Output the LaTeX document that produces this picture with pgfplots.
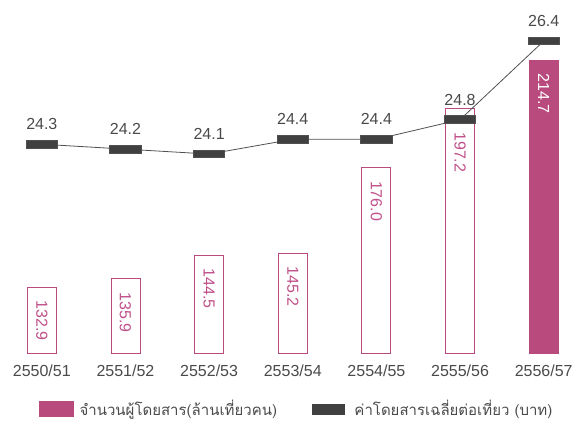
\documentclass[border=0pt]{standalone}
\usepackage{pgfplots}
\usepackage{pgfplotstable}
\pgfplotsset{compat=1.18}
\usepackage{fontspec}
\setmainfont{Liberation Sans}
\newfontfamily\thaifont[Script=Thai]{Loma}

\definecolor{barpink}{HTML}{B94A7E}
\definecolor{barlab}{HTML}{C0508A}
\definecolor{darkbar}{HTML}{404040}
\definecolor{labgray}{HTML}{4A4A4A}
\definecolor{linegray}{HTML}{505050}

% passengers (million trips), bars
\pgfplotstableread{
x v
0 132.9
1 135.9
2 144.5
3 145.2
4 176.0
}\passengers
\pgfplotstableread{
x v
5 197.2
}\passfive
\pgfplotstableread{
x v
6 214.7
}\passlast
% average fare (baht), line
\pgfplotstableread{
x v
0 24.3
1 24.2
2 24.1
3 24.4
4 24.4
5 24.8
6 26.4
}\fare

\tikzset{barlabel/.style={yshift=-#1, rotate=-90, anchor=west}}
\pgfplotsset{
  base/.style={
    scale only axis, width=583pt, height=353pt,
    xmin=-0.5, xmax=6.47,
    axis line style={draw=none}, major tick length=0pt,
    ytick=\empty, clip=false,
    /pgf/number format/assume math mode=true,
    /pgf/number format/.cd, fixed, fixed zerofill, precision=1,
  },
}

\begin{document}
\begin{tikzpicture}
\begin{axis}[
    base,
    ymin=0, ymax=127.2,
    xtick={0,...,6},
    xticklabels={2550/51,2551/52,2552/53,2553/54,2554/55,2555/56,2556/57},
    xticklabel style={anchor=north, inner sep=0pt, yshift=-12pt,
      font=\fontsize{16}{16}\selectfont, text=labgray},
    ybar, bar width=29pt,
    nodes near coords,
    point meta=explicit,
    every node near coord/.append style={inner sep=0pt,
      font=\fontsize{16}{16}\selectfont},
]
\addplot[bar shift=0pt, draw=barpink, line width=0.9pt, fill=white,
    every node near coord/.append style={text=barlab, barlabel=13pt}]
    table[x=x, y expr=\thisrow{v}-109.2, meta=v]{\passengers};
\addplot[bar shift=0pt, draw=barpink, line width=0.9pt, fill=white,
    every node near coord/.append style={text=barlab, barlabel=23pt}]
    table[x=x, y expr=\thisrow{v}-109.2, meta=v]{\passfive};
\addplot[bar shift=0pt, draw=barpink, fill=barpink,
    every node near coord/.append style={text=white, barlabel=13pt}]
    table[x=x, y expr=\thisrow{v}-109.2, meta=v]{\passlast};
\end{axis}

\begin{axis}[
    base,
    ymin=20.05, ymax=27.236,
    xtick=\empty,
    legend style={draw=none, fill=none, at={(axis description cs:0.509,-0.158)},
      anchor=center, legend columns=2,
      font=\thaifont\fontsize{15}{18}\selectfont, text=labgray,
      /tikz/every even column/.append style={column sep=33pt}},
]
\addlegendimage{legend image code/.code={\fill[barpink] (0pt,-7pt) rectangle (34pt,8pt); \path (38pt,0pt);}}
\addlegendentry{จำนวนผู้โดยสาร(ล้านเที่ยวคน)}
\addlegendimage{legend image code/.code={\fill[darkbar] (0pt,-5pt) rectangle (32pt,5pt); \path (40pt,0pt);}}
\addlegendentry{ค่าโดยสารเฉลี่ยต่อเที่ยว (บาท)}
\addplot[color=linegray, line width=0.8pt, mark=square*, mark size=3.8pt,
    mark options={xscale=4.1, fill=darkbar, draw=none},
    nodes near coords,
    every node near coord/.append style={anchor=south, inner sep=0pt, yshift=14pt,
      font=\fontsize{16}{16}\selectfont, text=labgray}]
    table[x=x, y=v]{\fare};
\end{axis}

\pgfresetboundingbox
\path[use as bounding box] (0pt,-68pt) rectangle (583pt,353pt);
\end{tikzpicture}
\end{document}
